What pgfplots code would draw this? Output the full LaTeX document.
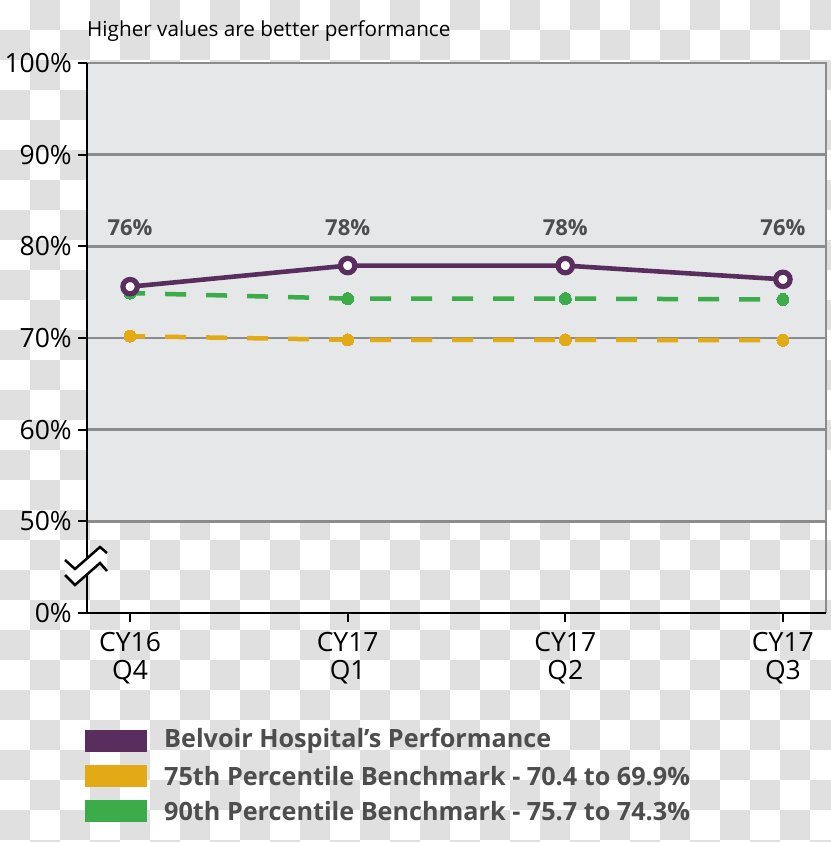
\documentclass[border=0pt]{standalone}
\usepackage{pgfplots}
\pgfplotsset{compat=1.18}
\usepackage{fontspec}
\setmainfont{Open Sans}
\definecolor{checkgray}{HTML}{E0E0E0}
\definecolor{plotfill}{HTML}{E6E7E8}
\definecolor{gridgray}{HTML}{8C8C8C}
\definecolor{perfpurple}{HTML}{5A2D5F}
\definecolor{benchgold}{HTML}{E2AB16}
\definecolor{benchgreen}{HTML}{3CAB4A}
\definecolor{labgray}{HTML}{4D4D4D}
\begin{document}
\begin{tikzpicture}
\useasboundingbox (0pt,0pt) rectangle (830pt,-842pt);
\fill[white] (0pt,0pt) rectangle (830pt,-842pt);
\foreach \i in {0,...,27}{
  \foreach \j in {0,...,28}{
    \pgfmathtruncatemacro{\parity}{mod(\i+\j,2)}
    \ifnum\parity=1
      \fill[checkgray] (\i*30pt,-\j*30pt) rectangle ++(30pt,-30pt);
    \fi
  }
}
% plot area fill (50% to 100%)
\fill[plotfill] (87pt,-63pt) rectangle (826pt,-521pt);
\draw[gridgray, line width=2.5pt] (826pt,-62pt) -- (826pt,-613pt);
% title
\node[anchor=base west, inner sep=0pt, font=\fontsize{20.7}{24}\selectfont] at (87pt,-37pt) {Higher values are better performance};
\begin{axis}[
  at={(87pt,-613pt)}, anchor=south west,
  scale only axis, width=739pt, height=550pt,
  xmin=-0.198, xmax=3.198, ymin=40, ymax=100,
  axis x line*=bottom, axis y line*=left,
  axis line style={black, line width=2.5pt, -},
  ytick={40,50,60,70,80,90,100},
  yticklabels={0\%,50\%,60\%,70\%,80\%,90\%,100\%},
  xtick={0,1,2,3},
  xticklabels={{CY16\\Q4},{CY17\\Q1},{CY17\\Q2},{CY17\\Q3}},
  ymajorgrids,
  grid style={gridgray, line width=2.5pt},
  tick style={black, line width=2pt},
  major tick length=9pt,
  tick align=outside,
  yticklabel style={font=\fontsize{26.5}{28}\selectfont, inner sep=0pt, xshift=-6pt},
  xticklabel style={font=\fontsize{26.5}{28}\selectfont, align=center, inner sep=0pt, yshift=-10pt},
  clip=false,
]
\addplot[benchgold, line width=4.5pt, dash pattern=on 21pt off 20pt, dash phase=6pt,
  mark=*, mark size=6pt, mark options={solid, fill=benchgold, draw=benchgold, line width=0pt}]
  coordinates {(0,70.2) (1,69.8) (2,69.8) (3,69.75)};
\addplot[benchgreen, line width=4.5pt, dash pattern=on 21pt off 20pt, dash phase=6pt,
  mark=*, mark size=6pt, mark options={solid, fill=benchgreen, draw=benchgreen, line width=0pt}]
  coordinates {(0,74.9) (1,74.3) (2,74.3) (3,74.2)};
\addplot[perfpurple, line width=4.6pt,
  mark=*, mark size=7.2pt, mark options={solid, fill=white, draw=perfpurple, line width=5.2pt}]
  coordinates {(0,75.6) (1,77.9) (2,77.9) (3,76.4)};
\foreach \xx/\lab in {0/76,1/78,2/78,3/76}{
  \edef\tmp{\noexpand\node[font=\noexpand\bfseries\noexpand\fontsize{22}{24}\noexpand\selectfont, text=labgray] at (axis cs:\xx,82.0) {\lab\noexpand\%};}
  \tmp
}
\end{axis}
% axis break symbol
\fill[white] (65pt,-560pt) -- (75pt,-569pt) -- (100pt,-547pt) -- (107pt,-553pt)
  -- (107pt,-571pt) -- (100pt,-563pt) -- (75pt,-585pt) -- (65pt,-575pt) -- cycle;
\draw[black, line width=2.5pt] (65pt,-560pt) -- (75pt,-569pt) -- (100pt,-547pt) -- (107pt,-553pt);
\draw[black, line width=2.5pt] (65pt,-575pt) -- (75pt,-585pt) -- (100pt,-563pt) -- (107pt,-571pt);
% legend
\fill[perfpurple] (85pt,-730pt) rectangle (147pt,-752pt);
\fill[benchgold] (85pt,-765pt) rectangle (147pt,-787pt);
\fill[benchgreen] (85pt,-800pt) rectangle (147pt,-822pt);
\begin{scope}[every node/.style={anchor=west, inner sep=0pt, text=labgray, font=\bfseries\fontsize{25.2}{30}\selectfont}]
\node at (164pt,-741pt) {Belvoir Hospital’s Performance};
\node at (164pt,-776pt) {75th Percentile Benchmark - 70.4 to 69.9\%};
\node at (164pt,-811pt) {90th Percentile Benchmark - 75.7 to 74.3\%};
\end{scope}
\end{tikzpicture}
\end{document}
